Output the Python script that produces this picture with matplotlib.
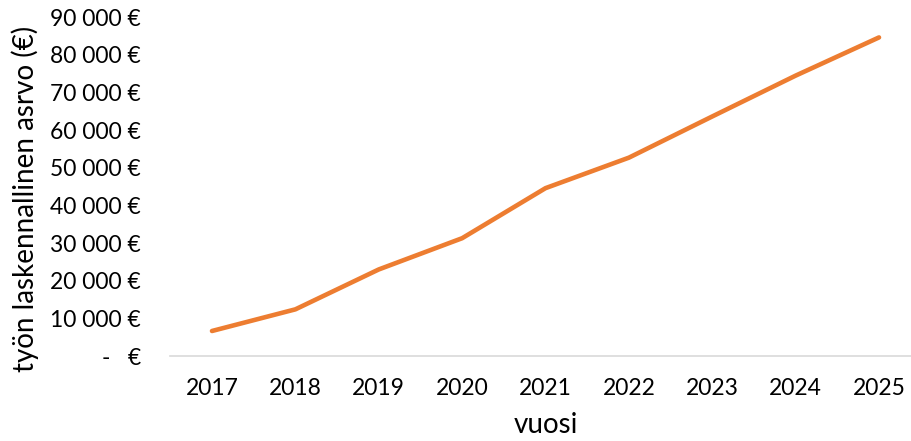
import matplotlib
matplotlib.use("Agg")
import matplotlib.pyplot as plt
from matplotlib.ticker import FuncFormatter

years = ["2017", "2018", "2019", "2020", "2021", "2022", "2023", "2024", "2025"]
values = [6650, 12400, 23000, 31300, 44600, 52700, 63650, 74500, 84650]
y_ticks = [0, 10000, 20000, 30000, 40000, 50000, 60000, 70000, 80000, 90000]

plt.rcParams['font.family'] = ['Lato', 'DejaVu Sans']

fig = plt.figure(figsize=(9.11, 4.41), dpi=100)
ax = fig.add_axes([170.3/911, 0.1927, (920.7-170.3)/911, 0.9608-0.1927])

x = list(range(len(years)))
ax.plot(x, values, color="#ED7D31", linewidth=3.3, solid_capstyle="round", solid_joinstyle="round")

ax.set_xlim(-0.5, len(years) - 0.5)
ax.set_ylim(0, 90000)
ax.set_xticks(x)
ax.set_xticklabels(years)
ax.set_yticks(y_ticks)

def fmt(v, pos):
    if v == 0:
        return "-   €"
    return f"{int(v):,} €".replace(",", " ")

ax.yaxis.set_major_formatter(FuncFormatter(fmt))

for s in ["top", "right", "left"]:
    ax.spines[s].set_visible(False)
ax.spines["bottom"].set_color("#D9D9D9")
ax.spines["bottom"].set_linewidth(1.2)
ax.tick_params(axis="both", length=0, labelsize=16.5, colors="black")
ax.tick_params(axis="y", pad=21)
ax.tick_params(axis="x", pad=16)

fig.text(25/911, 0.55, "työn laskennallinen asrvo (€)", rotation=90, ha="center", va="center", fontsize=20)
fig.text(546/911, 1 - 425/441, "vuosi", ha="center", va="center", fontsize=20)

fig.savefig("out.png", dpi=100)
